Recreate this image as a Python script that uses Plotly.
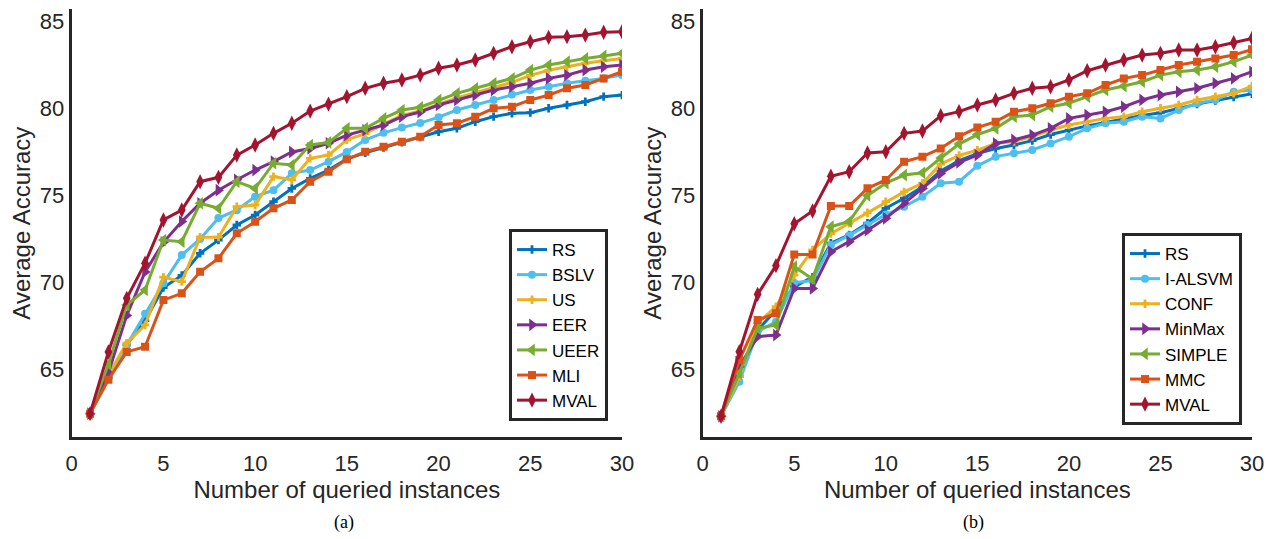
import plotly.graph_objects as go

queries = list(range(1, 31))
x_ticks = [0, 5, 10, 15, 20, 25, 30]
y_ticks = [65, 70, 75, 80, 85]

# ---- panel (a) ----
names_a = ["RS", "BSLV", "US", "EER", "UEER", "MLI", "MVAL"]
rs_a = [62.45, 64.5, 66.4, 67.8, 69.7, 70.4, 71.67, 72.43, 73.3, 73.87, 74.64, 75.4, 75.98, 76.46, 77.1,
        77.45, 77.75, 78.05, 78.35, 78.66, 78.86, 79.24, 79.53, 79.72, 79.76, 80.01, 80.2, 80.39, 80.68, 80.77]
bslv_a = [62.45, 64.6, 66.4, 68.2, 69.95, 71.57, 72.5, 73.7, 74.15, 74.93, 75.3, 76.27, 76.46, 76.94, 77.5,
          78.19, 78.6, 78.9, 79.16, 79.5, 79.91, 80.2, 80.49, 80.8, 81.06, 81.25, 81.45, 81.6, 81.73, 81.92]
us_a = [62.45, 64.7, 66.5, 67.55, 70.3, 70.04, 72.6, 72.6, 74.35, 74.45, 76.08, 75.9, 77.13, 77.32, 78.2,
        78.55, 79.1, 79.6, 79.85, 80.25, 80.6, 80.9, 81.2, 81.5, 81.9, 82.2, 82.4, 82.6, 82.75, 82.88]
eer_a = [62.45, 64.8, 68.1, 70.6, 72.3, 73.5, 74.55, 75.3, 75.9, 76.46, 76.94, 77.5, 77.7, 78.0, 78.47,
         78.75, 79.05, 79.53, 79.8, 80.2, 80.49, 80.77, 81.06, 81.25, 81.45, 81.73, 81.92, 82.21, 82.4, 82.5]
ueer_a = [62.45, 65.3, 68.7, 69.56, 72.43, 72.34, 74.55, 74.26, 75.79, 75.4, 76.85, 76.75, 77.9, 78.05, 78.86,
          78.86, 79.43, 79.91, 80.07, 80.49, 80.87, 81.16, 81.45, 81.73, 82.21, 82.5, 82.69, 82.88, 83.02, 83.17]
mli_a = [62.45, 64.4, 66.0, 66.3, 68.98, 69.37, 70.61, 71.38, 72.82, 73.49, 74.26, 74.74, 75.79, 76.36, 77.08,
         77.51, 77.8, 78.09, 78.38, 79.05, 79.15, 79.53, 80.01, 80.1, 80.49, 80.77, 81.16, 81.35, 81.73, 82.11]
mval_a = [62.45, 66.0, 69.08, 71.1, 73.59, 74.16, 75.79, 76.04, 77.32, 77.9, 78.57, 79.15, 79.85, 80.25, 80.68,
          81.16, 81.45, 81.64, 81.92, 82.31, 82.5, 82.79, 83.17, 83.55, 83.84, 84.09, 84.13, 84.22, 84.38, 84.41]

# ---- panel (b) ----
names_b = ["RS", "I-ALSVM", "CONF", "MinMax", "SIMPLE", "MMC", "MVAL"]
rs_b = [62.3, 64.6, 67.26, 68.4, 69.75, 70.3, 72.25, 72.73, 73.4, 74.26, 74.84, 75.5, 76.4, 77.0, 77.4,
        77.7, 77.9, 78.15, 78.5, 78.75, 79.0, 79.2, 79.4, 79.6, 79.75, 80.0, 80.25, 80.45, 80.65, 80.85]
ialsvm_b = [62.3, 64.29, 67.16, 67.74, 69.98, 70.1, 72.15, 72.7, 73.3, 73.9, 74.35, 74.93, 75.7, 75.79, 76.7,
            77.23, 77.42, 77.61, 77.99, 78.38, 78.86, 79.15, 79.24, 79.53, 79.43, 79.91, 80.3, 80.49, 80.96, 81.06]
conf_b = [62.3, 64.58, 67.66, 68.6, 70.42, 71.86, 72.8, 73.4, 74.0, 74.64, 75.2, 75.7, 76.8, 77.3, 77.6,
          77.99, 78.1, 78.38, 78.76, 79.05, 79.24, 79.43, 79.53, 79.81, 80.01, 80.2, 80.49, 80.68, 80.87, 81.29]
minmax_b = [62.3, 65.15, 66.88, 66.97, 69.65, 69.65, 71.76, 72.34, 73.0, 73.68, 74.55, 75.4, 76.27, 76.9, 77.32,
            77.99, 78.19, 78.47, 78.86, 79.43, 79.62, 79.81, 80.1, 80.49, 80.77, 80.96, 81.16, 81.45, 81.73, 82.11]
simple_b = [62.3, 64.77, 67.36, 67.55, 70.9, 70.2, 73.2, 73.5, 75.0, 75.7, 76.17, 76.3, 77.15, 77.95, 78.5,
            78.86, 79.53, 79.62, 80.1, 80.3, 80.68, 81.06, 81.29, 81.54, 81.92, 82.11, 82.21, 82.4, 82.69, 83.07]
mmc_b = [62.3, 65.53, 67.84, 68.22, 71.6, 71.6, 74.39, 74.39, 75.41, 75.89, 76.94, 77.23, 77.7, 78.4, 78.9,
         79.24, 79.81, 80.01, 80.3, 80.68, 80.87, 81.35, 81.73, 81.92, 82.21, 82.5, 82.69, 82.88, 83.07, 83.4]
mval_b = [62.3, 66.01, 69.31, 70.96, 73.37, 74.1, 76.1, 76.36, 77.44, 77.51, 78.57, 78.7, 79.58, 79.82, 80.2,
          80.49, 80.87, 81.16, 81.25, 81.64, 82.17, 82.5, 82.79, 83.07, 83.17, 83.36, 83.36, 83.55, 83.78, 84.03]

colors = ["#0072BD", "#4DBEEE", "#EDB120", "#7E2F8E", "#77AC30", "#D95319", "#A2142F"]
symbols = ["cross", "circle", "cross", "triangle-right", "triangle-left", "square", "diamond-tall"]
sizes = [7, 8, 7, 11, 11, 8, 11]

series_a = [rs_a, bslv_a, us_a, eer_a, ueer_a, mli_a, mval_a]
series_b = [rs_b, ialsvm_b, conf_b, minmax_b, simple_b, mmc_b, mval_b]

W, H = 1273, 539
fig = go.Figure()

for i, (nm, ys) in enumerate(zip(names_a, series_a)):
    fig.add_trace(go.Scatter(x=queries, y=ys, name=nm, mode="lines+markers",
                             line=dict(color=colors[i], width=3),
                             marker=dict(symbol=symbols[i], size=sizes[i], color=colors[i], line=dict(width=0)),
                             xaxis="x", yaxis="y", legend="legend"))
for i, (nm, ys) in enumerate(zip(names_b, series_b)):
    fig.add_trace(go.Scatter(x=queries, y=ys, name=nm, mode="lines+markers",
                             line=dict(color=colors[i], width=3),
                             marker=dict(symbol=symbols[i], size=sizes[i], color=colors[i], line=dict(width=0)),
                             xaxis="x2", yaxis="y2", legend="legend2"))

axcol = "#262626"
font_main = "Liberation Sans, Arial, sans-serif"

def xaxis(dom, anchor):
    return dict(domain=dom, range=[0, 30], tickvals=x_ticks, showgrid=False, zeroline=False,
                showline=True, linecolor=axcol, linewidth=3, ticks="", ticklabelstandoff=4,
                automargin=False,
                tickfont=dict(size=22, color=axcol, family=font_main), anchor=anchor,
                title=dict(text="Number of queried instances", standoff=2,
                           font=dict(size=24, color=axcol, family=font_main)))

def yaxis(anchor):
    return dict(domain=[(H - 437.3) / H, (H - 9) / H], range=[61.09, 85.72], tickvals=y_ticks,
                showgrid=False, zeroline=False, showline=True, linecolor=axcol, linewidth=3,
                ticks="", ticklabelstandoff=0, anchor=anchor, automargin=False,
                tickfont=dict(size=22, color=axcol, family=font_main),
                title=dict(text="Average Accuracy", standoff=3,
                           font=dict(size=24, color=axcol, family=font_main)))

legend_common = dict(bgcolor="white", bordercolor=axcol, borderwidth=3,
                     font=dict(size=17, color="black", family=font_main),
                     xanchor="right", yanchor="bottom", tracegroupgap=0)

fig.update_layout(
    width=W, height=H,
    margin=dict(l=0, r=0, t=0, b=0, autoexpand=False),
    paper_bgcolor="white", plot_bgcolor="white",
    xaxis=xaxis([71.7 / W, 622 / W], "y"),
    yaxis=yaxis("x"),
    xaxis2=xaxis([702.7 / W, 1252 / W], "y2"),
    yaxis2=yaxis("x2"),
    legend=dict(x=608 / W, y=(H - 421) / H, **legend_common),
    legend2=dict(x=1242 / W, y=(H - 425) / H, **legend_common),
    annotations=[
        dict(text="(a)", x=344 / W, y=(H - 522) / H, xref="paper", yref="paper", showarrow=False,
             xanchor="center", yanchor="middle",
             font=dict(size=18, color="black", family="Liberation Serif, Times New Roman, serif")),
        dict(text="(b)", x=973 / W, y=(H - 522) / H, xref="paper", yref="paper", showarrow=False,
             xanchor="center", yanchor="middle",
             font=dict(size=18, color="black", family="Liberation Serif, Times New Roman, serif")),
    ],
)

fig.write_html("out.html", config={"displayModeBar": False},
               post_script="document.body.style.margin='0px';")
